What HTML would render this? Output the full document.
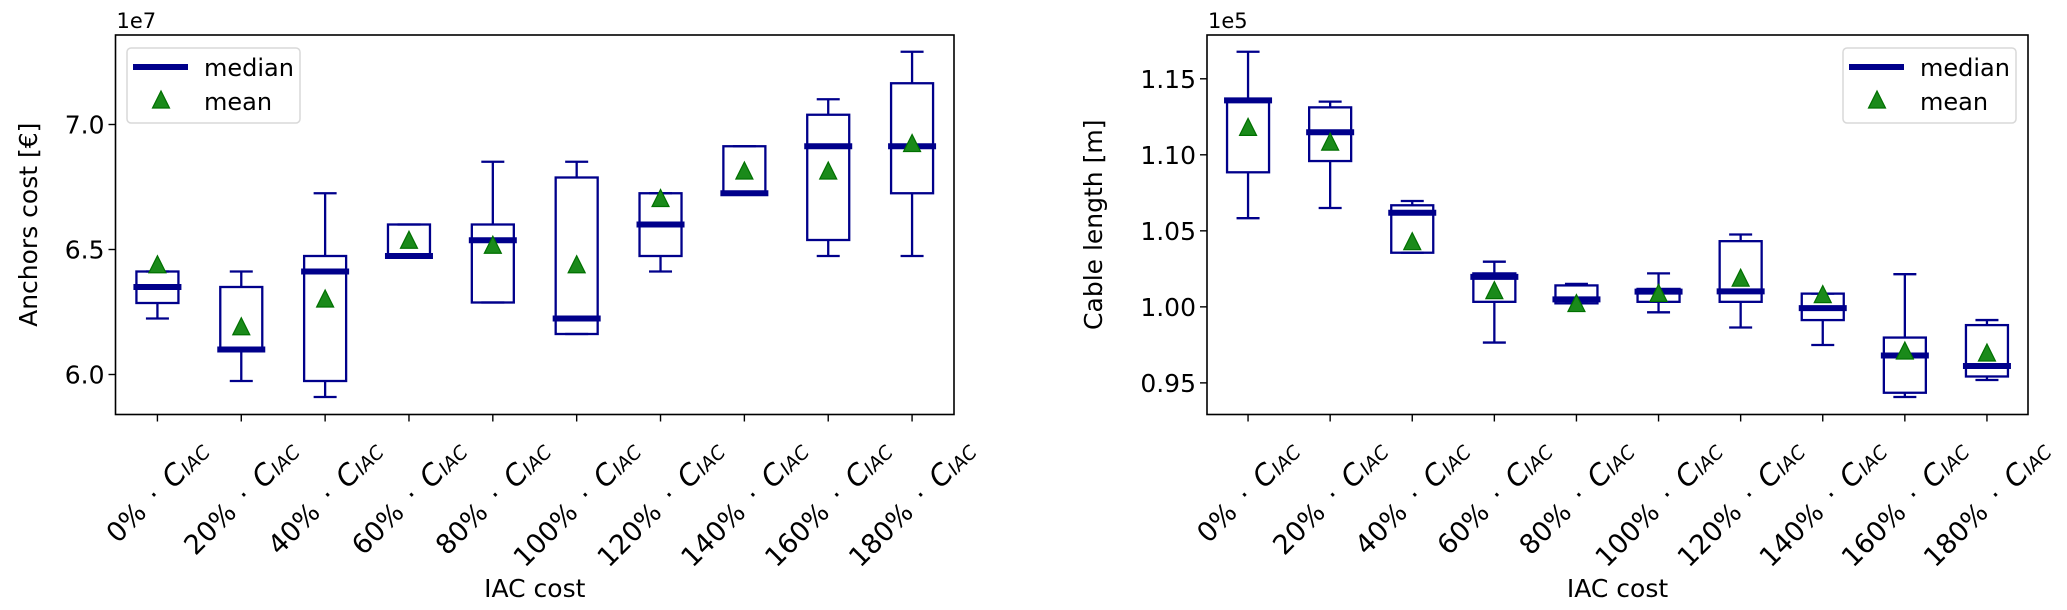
<!DOCTYPE html>
<html><head><meta charset="utf-8"><style>
html,body{margin:0;padding:0;background:#fff;}
svg{display:block;font-family:"DejaVu Sans","Liberation Sans",sans-serif;}
</style></head><body>
<svg id="fig" width="2067" height="610" viewBox="0 0 2067 610" xmlns="http://www.w3.org/2000/svg"></svg>
<script>
const categories = ["0%","20%","40%","60%","80%","100%","120%","140%","160%","180%"];
// Left: Anchors cost (x1e7)
const leftLow    = [6.224,5.974,5.910,6.474,6.288,6.162,6.412,6.725,6.474,6.474];
const leftQ1     = [6.286,6.100,5.974,6.474,6.288,6.162,6.474,6.725,6.538,6.725];
const leftMedian = [6.350,6.100,6.412,6.474,6.537,6.224,6.600,6.725,6.913,6.913];
const leftQ3     = [6.412,6.350,6.474,6.600,6.600,6.788,6.725,6.913,7.039,7.165];
const leftHigh   = [6.412,6.412,6.725,6.600,6.851,6.851,6.725,6.913,7.101,7.291];
const leftMean   = [6.435,6.187,6.298,6.533,6.513,6.435,6.700,6.810,6.810,6.920];
const leftTicks  = [6.0,6.5,7.0];
const leftTickLabels = ["6.0","6.5","7.0"];
// Right: Cable length (x1e5)
const rightLow    = [1.0583,1.0650,1.0356,0.9765,1.0023,0.9964,0.9864,0.9749,0.9407,0.9519];
const rightQ1     = [1.0885,1.0959,1.0356,1.0033,1.0023,1.0033,1.0033,0.9913,0.9435,0.9542];
const rightMedian = [1.1358,1.1148,1.0619,1.0197,1.0049,1.0100,1.0102,0.9992,0.9680,0.9611];
const rightQ3     = [1.1358,1.1312,1.0668,1.0220,1.0141,1.0118,1.0432,1.0087,0.9798,0.9880];
const rightHigh   = [1.1678,1.1350,1.0696,1.0297,1.0151,1.0220,1.0476,1.0087,1.0215,0.9913];
const rightMean   = [1.1174,1.1077,1.0422,1.0100,1.0015,1.0082,1.0182,1.0074,0.9703,0.9690];
const rightTicks  = [0.95,1.00,1.05,1.10,1.15];
const rightTickLabels = ["0.95","1.00","1.05","1.10","1.15"];

const NS="http://www.w3.org/2000/svg";
const svg=document.getElementById('fig');
function mk(tag,attrs,parent){const e=document.createElementNS(NS,tag);for(const k in attrs)e.setAttribute(k,attrs[k]);(parent||svg).appendChild(e);return e;}
const NAVY="#00008b";

function drawPanel(p){
  const g=mk('g',{});
  
  
  const L=p.x0,R=p.x1,T=35,B=414.5;
  const xS=i=>L+(i+1-0.5)*(R-L)/categories.length;
  const yS=v=>B-(v-p.ymin)/(p.ymax-p.ymin)*(B-T);
  for(let i=0;i<categories.length;i++){
    const bg=mk('g',{},g);
    
    
    const cx=xS(i),hw=21,cw=11.5;
    mk('line',{x1:cx,x2:cx,y1:yS(p.low[i]),y2:yS(p.q1[i]),stroke:NAVY,'stroke-width':2.3},bg);
    mk('line',{x1:cx,x2:cx,y1:yS(p.q3[i]),y2:yS(p.high[i]),stroke:NAVY,'stroke-width':2.3},bg);
    mk('line',{x1:cx-cw,x2:cx+cw,y1:yS(p.low[i]),y2:yS(p.low[i]),stroke:NAVY,'stroke-width':2.3},bg);
    mk('line',{x1:cx-cw,x2:cx+cw,y1:yS(p.high[i]),y2:yS(p.high[i]),stroke:NAVY,'stroke-width':2.3},bg);
    const yt=yS(p.q3[i]),yb=yS(p.q1[i]);
    mk('rect',{x:cx-hw,y:yt,width:2*hw,height:Math.max(0.01,yb-yt),fill:'none',stroke:NAVY,'stroke-width':2.3},bg);
    const med=mk('line',{x1:cx-hw-3,x2:cx+hw+3,y1:yS(p.med[i]),y2:yS(p.med[i]),stroke:NAVY,'stroke-width':6},bg);
    
    
    const my=yS(p.mean[i]);
    const tri=mk('polygon',{points:`${cx},${my-10} ${cx-8.5},${my+7} ${cx+8.5},${my+7}`,fill:'#1a8a1a',stroke:'#007000','stroke-width':1.2},bg);
    
    
  }
  const fr=mk('rect',{x:L,y:T,width:R-L,height:B-T,fill:'none',stroke:'#000','stroke-width':1.6},g);
  
  
  p.ticks.forEach((t,k)=>{
    const y=yS(t);
    mk('line',{x1:L-7,x2:L,y1:y,y2:y,stroke:'#000','stroke-width':1.4},g);
    const tx=mk('text',{x:L-11,y:y+9,'text-anchor':'end','font-size':25,fill:'#000'},g);
    tx.textContent=p.tickLabels[k];
    
    
  });
  const off=mk('text',{x:L+1,y:28,'font-size':21,fill:'#000'},g);
  off.textContent=p.offset;
  
  
  categories.forEach((c,i)=>{
    const x=xS(i);
    mk('line',{x1:x,x2:x,y1:B,y2:B+7,stroke:'#000','stroke-width':1.4},g);
    const t=mk('text',{'font-size':27,fill:'#000','text-anchor':'middle','dominant-baseline':'central'},g);
    
    
    const s1=mk('tspan',{},t); s1.textContent=c+'\u2002·\u2002';
    const s2=mk('tspan',{'font-style':'italic','font-size':29},t); s2.textContent='C';
    const s3=mk('tspan',{'font-style':'italic','font-size':19,dy:5},t); s3.textContent='IAC';
    const len=t.getComputedTextLength()||160;
    const h=(len+27)*0.7071;
    const cy=436+h/2;
    t.setAttribute('x',x);t.setAttribute('y',cy);
    t.setAttribute('transform',`rotate(-45 ${x} ${cy})`);
  });
  const xt=mk('text',{x:(L+R)/2,y:597,'text-anchor':'middle','font-size':25,fill:'#000'},g);
  xt.textContent='IAC cost';
  
  
  const yt=mk('text',{x:0,y:0,'text-anchor':'middle','font-size':25,fill:'#000',transform:`translate(${p.ylx},${(T+B)/2}) rotate(-90)`},g);
  yt.textContent=p.ylabel;
  
  
  const lg=mk('g',{},g);
  
  
  const lx=p.legX;
  mk('rect',{x:lx,y:48,width:173,height:75,rx:4,fill:'#fff','fill-opacity':0.8,stroke:'#d8d8d8','stroke-width':1.5},lg);
  mk('line',{x1:lx+6,x2:lx+61,y1:67,y2:67,stroke:NAVY,'stroke-width':6},lg);
  const t1=mk('text',{x:lx+77,y:76,'font-size':24,fill:'#000'},lg); t1.textContent='median';
  
  
  const cx=lx+34,cy=101;
  mk('polygon',{points:`${cx},${cy-10} ${cx-8.5},${cy+7} ${cx+8.5},${cy+7}`,fill:'#1a8a1a',stroke:'#007000','stroke-width':1.2},lg);
  const t2=mk('text',{x:lx+77,y:110,'font-size':24,fill:'#000'},lg); t2.textContent='mean';
  
  
}
drawPanel({name:'anchors-cost-chart',x0:115.5,x1:954,ymin:5.840,ymax:7.358,low:leftLow,q1:leftQ1,med:leftMedian,q3:leftQ3,high:leftHigh,mean:leftMean,ticks:leftTicks,tickLabels:leftTickLabels,offset:'1e7',ylabel:'Anchors cost [€]',ylx:37,legX:127});
drawPanel({name:'cable-length-chart',x0:1207,x1:2028,ymin:0.9292,ymax:1.1788,low:rightLow,q1:rightQ1,med:rightMedian,q3:rightQ3,high:rightHigh,mean:rightMean,ticks:rightTicks,tickLabels:rightTickLabels,offset:'1e5',ylabel:'Cable length [m]',ylx:1102,legX:1843});
</script>
</body></html>
